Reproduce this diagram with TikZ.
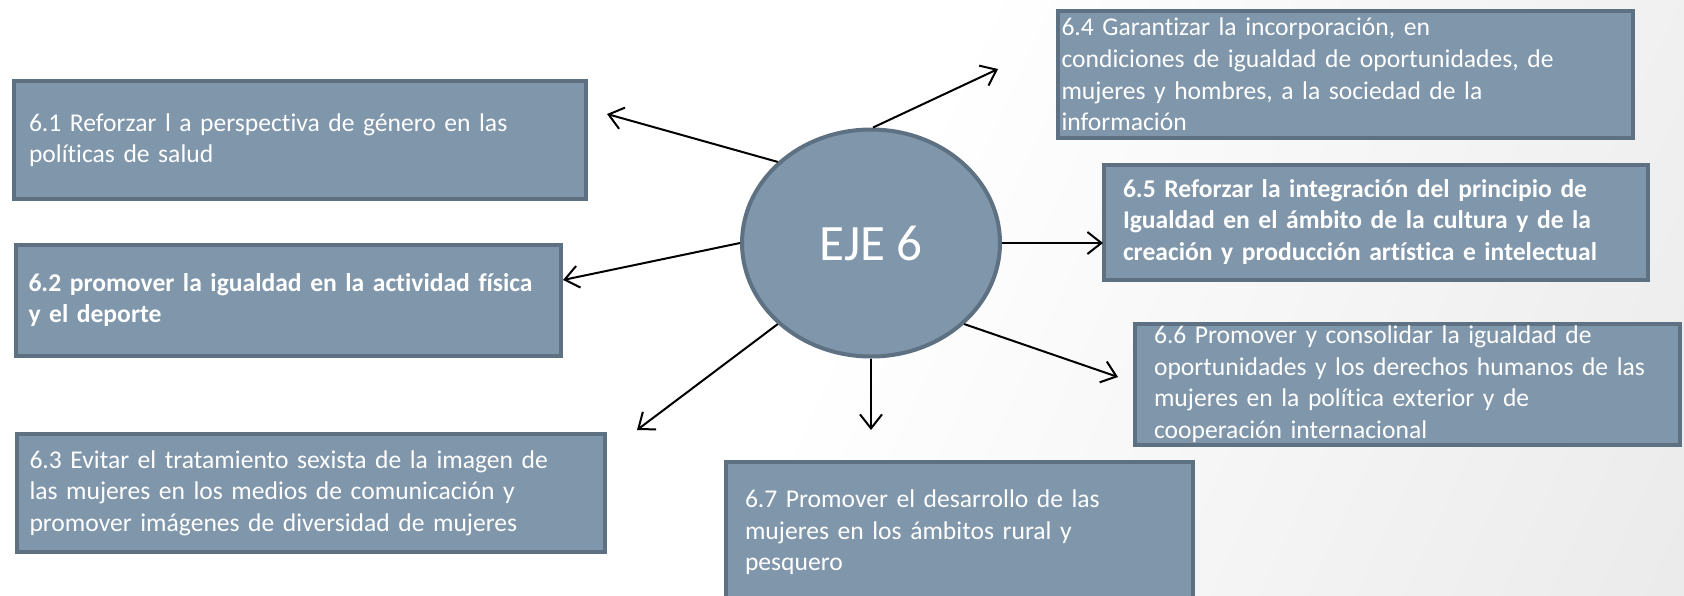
\documentclass[tikz,border=0pt]{standalone}
\usepackage{fontspec}
\setmainfont{Carlito}[Ligatures=CommonOff]
\usetikzlibrary{shapes.geometric,arrows.meta}

\definecolor{boxfill}{RGB}{127,150,171}
\definecolor{boxline}{RGB}{94,113,130}
\pgfdeclarehorizontalshading{slidebg}{100bp}{color(0bp)=(white); color(50bp)=(white); color(100bp)=(black!12)}

\tikzset{
    goalbox/.style={draw=boxline, fill=boxfill, line width=2pt,
        rectangle, inner sep=0pt, align=left, text=white,
        font=\fontsize{12.8pt}{15.8pt}\selectfont},
    goalboxbold/.style={goalbox,
        font=\fontsize{12.8pt}{15.8pt}\selectfont\bfseries},
    axisnode/.style={draw=boxline, fill=boxfill, line width=2pt,
        ellipse, inner sep=0pt, text=white,
        font=\fontsize{25.5pt}{30pt}\selectfont},
    link/.style={-{Straight Barb[length=7pt,width=11pt]}, line width=1pt}
}

\begin{document}
\begin{tikzpicture}[x=0.5pt, y=-0.5pt]

    % Slide background
    \useasboundingbox (0,0) rectangle (1684,595);
    \shade[shading=slidebg, shading angle=-25] (0,0) rectangle (1684,595);

    % Central ellipse
    \node[axisnode,
        minimum width=129pt,
        minimum height=113.5pt] (eje) at (871,243){EJE 6};

    % Boxes on the left
    \node[goalbox,
        minimum width=286pt,
        minimum height=59pt,
        text width=271pt] (b61) at (300,140){6.1 Reforzar l a perspectiva de género en las\\políticas de salud};

    \node[goalboxbold,
        minimum width=272.5pt,
        minimum height=55.5pt,
        text width=260pt] (b62) at (288.5,300){6.2 promover la igualdad en la actividad física\\y el deporte};

    \node[goalbox,
        minimum width=294pt,
        minimum height=59pt,
        text width=281.5pt] (b63) at (311,493){6.3 Evitar el tratamiento sexista de la imagen de\\las mujeres en los medios de comunicación y\\promover imágenes de diversidad de mujeres};

    % Boxes on the right
    \node[goalbox,
        minimum width=287.5pt,
        minimum height=63.5pt,
        text width=284pt] (b64) at (1345.5,74.5){6.4 Garantizar la incorporación, en\\condiciones de igualdad de oportunidades, de\\mujeres y hombres, a la sociedad de la\\información};

    \node[goalboxbold,
        minimum width=272pt,
        minimum height=57.5pt,
        text width=253pt] (b65) at (1376,222){6.5 Reforzar la integración del principio de\\Igualdad en el ámbito de la cultura y de la\\creación y producción artística e intelectual};

    \node[goalbox,
        minimum width=272.5pt,
        minimum height=60.5pt,
        text width=253.5pt] (b66) at (1407.5,384){6.6 Promover y consolidar la igualdad de\\oportunidades y los derechos humanos de las\\mujeres en la política exterior y de\\cooperación internacional};

    % Box at the bottom
    \node[goalbox,
        minimum width=233.5pt,
        minimum height=70.5pt,
        text width=214.5pt] (b67) at (959.5,532.5){6.7 Promover el desarrollo de las\\mujeres en los ámbitos rural y\\pesquero};

    % Arrow ends
    \coordinate (t61) at (607,114);
    \coordinate (t62) at (563,280);
    \coordinate (t63) at (637,430);
    \coordinate (t64) at (998,69);
    \coordinate (t65) at (1103,243);
    \coordinate (t66) at (1118,377);
    \coordinate (t67) at (871,430);

    % Arrows
    \draw[link] (eje.139) -- (t61);
    \draw[link] (eje.180) -- (t62);
    \draw[link] (eje.221) -- (t63);
    \draw[link] (eje.89) -- (t64);
    \draw[link] (eje.0) -- (t65);
    \draw[link] (eje.319) -- (t66);
    \draw[link] (eje.270) -- (t67);

\end{tikzpicture}
\end{document}
